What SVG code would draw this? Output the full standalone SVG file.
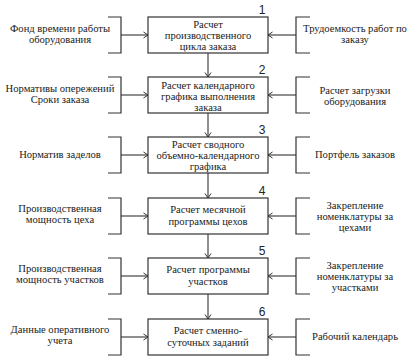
<svg xmlns="http://www.w3.org/2000/svg" width="419" height="359" viewBox="0 0 419 359" font-family="'Liberation Serif', serif">
<style>
text{font-family:'Liberation Serif',serif;font-size:10.6px;fill:#222;text-anchor:middle}
text.num{font-family:'Liberation Sans',sans-serif;font-size:12px}
.box{fill:#fff;stroke:#333;stroke-width:1.2}
.br{fill:none;stroke:#333;stroke-width:1.2}
.ln{fill:none;stroke:#333;stroke-width:1.1;marker-end:url(#ah)}
</style>
<defs>
<marker id="ah" markerWidth="6" markerHeight="8" refX="5.5" refY="4" orient="auto" markerUnits="userSpaceOnUse">
<path d="M1,1 L5.5,4 L1,7" fill="none" stroke="#333" stroke-width="1"/>
</marker>
</defs>
<rect width="419" height="359" fill="#fff"/>

<g id="connectors">
<line class="ln" x1="208" y1="53" x2="208" y2="77"/>
<line class="ln" x1="208" y1="113" x2="208" y2="137"/>
<line class="ln" x1="208" y1="173" x2="208" y2="198"/>
<line class="ln" x1="208" y1="234" x2="208" y2="258"/>
<line class="ln" x1="208" y1="294" x2="208" y2="319"/>
<line class="ln" x1="121" y1="35" x2="148" y2="35"/>
<line class="ln" x1="121" y1="95" x2="148" y2="95"/>
<line class="ln" x1="121" y1="155" x2="148" y2="155"/>
<line class="ln" x1="121" y1="216" x2="148" y2="216"/>
<line class="ln" x1="121" y1="276" x2="148" y2="276"/>
<line class="ln" x1="121" y1="337" x2="148" y2="337"/>
<line class="ln" x1="296" y1="35" x2="268" y2="35"/>
<line class="ln" x1="296" y1="95" x2="268" y2="95"/>
<line class="ln" x1="296" y1="155" x2="268" y2="155"/>
<line class="ln" x1="296" y1="216" x2="268" y2="216"/>
<line class="ln" x1="296" y1="276" x2="268" y2="276"/>
<line class="ln" x1="296" y1="337" x2="268" y2="337"/>
</g>

<g id="box1"><rect class="box" x="148" y="17" width="120" height="36"/><text class="num" x="262" y="14">1</text>
<text x="208" y="28">Расчет</text><text x="208" y="39">производственного</text><text x="208" y="50">цикла заказа</text></g>
<g id="box2"><rect class="box" x="148" y="77" width="120" height="36"/><text class="num" x="262" y="74">2</text>
<text x="208" y="89">Расчет календарного</text><text x="208" y="100">графика выполнения</text><text x="208" y="111">заказа</text></g>
<g id="box3"><rect class="box" x="148" y="137" width="120" height="36"/><text class="num" x="262" y="134">3</text>
<text x="208" y="148">Расчет сводного</text><text x="208" y="159">объемно-календарного</text><text x="208" y="170">графика</text></g>
<g id="box4"><rect class="box" x="148" y="198" width="120" height="36"/><text class="num" x="262" y="195">4</text>
<text x="208" y="213">Расчет месячной</text><text x="208" y="225">программы цехов</text></g>
<g id="box5"><rect class="box" x="148" y="258" width="120" height="36"/><text class="num" x="262" y="255">5</text>
<text x="208" y="273">Расчет программы</text><text x="208" y="285">участков</text></g>
<g id="box6"><rect class="box" x="148" y="319" width="120" height="36"/><text class="num" x="262" y="316">6</text>
<text x="208" y="334">Расчет сменно-</text><text x="208" y="346">суточных заданий</text></g>

<g id="in-left1"><path class="br" d="M108,17 H121 V53 H108"/><text x="60" y="32">Фонд времени работы</text><text x="60" y="43">оборудования</text></g>
<g id="in-left2"><path class="br" d="M108,77 H121 V113 H108"/><text x="60" y="92">Нормативы опережений</text><text x="60" y="103">Сроки заказа</text></g>
<g id="in-left3"><path class="br" d="M108,137 H121 V173 H108"/><text x="60" y="158">Норматив заделов</text></g>
<g id="in-left4"><path class="br" d="M108,198 H121 V234 H108"/><text x="60" y="212">Производственная</text><text x="60" y="223">мощность цеха</text></g>
<g id="in-left5"><path class="br" d="M108,258 H121 V294 H108"/><text x="60" y="272">Производственная</text><text x="60" y="283">мощность участков</text></g>
<g id="in-left6"><path class="br" d="M108,319 H121 V355 H108"/><text x="60" y="333">Данные оперативного</text><text x="60" y="344">учета</text></g>

<g id="in-right1"><path class="br" d="M310,17 H296 V53 H310"/><text x="355" y="32">Трудоемкость работ по</text><text x="355" y="43">заказу</text></g>
<g id="in-right2"><path class="br" d="M310,77 H296 V113 H310"/><text x="355" y="94">Расчет загрузки</text><text x="355" y="105">оборудования</text></g>
<g id="in-right3"><path class="br" d="M310,137 H296 V173 H310"/><text x="355" y="158">Портфель заказов</text></g>
<g id="in-right4"><path class="br" d="M310,198 H296 V234 H310"/><text x="355" y="209">Закрепление</text><text x="355" y="220">номенклатуры за</text><text x="355" y="231">цехами</text></g>
<g id="in-right5"><path class="br" d="M310,258 H296 V294 H310"/><text x="355" y="269">Закрепление</text><text x="355" y="280">номенклатуры за</text><text x="355" y="291">участками</text></g>
<g id="in-right6"><path class="br" d="M310,319 H296 V355 H310"/><text x="355" y="340">Рабочий календарь</text></g>
</svg>
